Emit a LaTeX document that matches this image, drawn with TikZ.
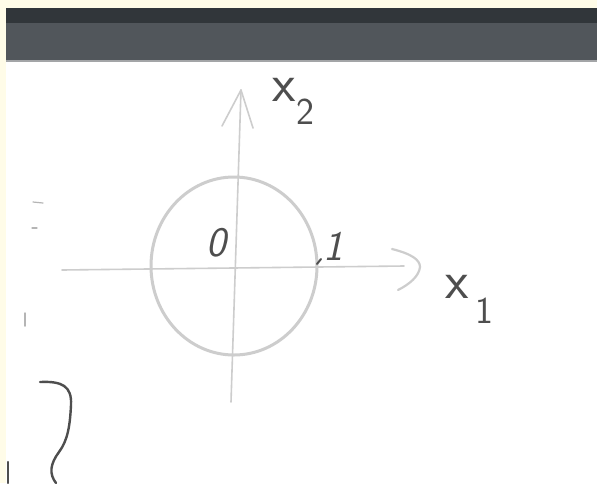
\documentclass[tikz,border=0pt]{standalone}
\usepackage{tikz}
\usepackage{xcolor}
\usetikzlibrary{positioning}
\definecolor{cream}{HTML}{FFFCE8}
\definecolor{barDark}{HTML}{31363A}
\definecolor{barGray}{HTML}{51565B}
\definecolor{barEdge}{HTML}{A3A5A7}
\definecolor{pencil}{HTML}{CDCDCD}
\definecolor{graphite}{HTML}{4E4E4E}
\definecolor{faintmark}{HTML}{B5B5B5}
\tikzset{
  axisline/.style={draw=pencil,line width=1.6pt,line cap=round,line join=round},
  ringline/.style={draw=pencil,line width=3pt},
  penstroke/.style={draw=graphite,line width=2.4pt,line cap=round},
  handlbl/.style={text=graphite,inner sep=0pt,font=\sffamily\fontsize{54}{54}\selectfont},
  handsub/.style={text=graphite,inner sep=0pt,font=\sffamily\fontsize{38}{38}\selectfont},
  handnum/.style={text=graphite,inner sep=0pt,font=\sffamily\itshape\fontsize{42}{42}\selectfont}
}
\begin{document}
\begin{tikzpicture}[x=1pt,y=-1pt]
    \path[use as bounding box,fill=cream] (0,0) rectangle (597,483);
    % screen frame
    \fill[barDark] (6,8) rectangle (597,23);
    \fill[barGray] (6,23) rectangle (597,60);
    \fill[barEdge] (6,60) rectangle (597,62);
    \fill[white] (6,62) rectangle (597,483);
    % axes
    \coordinate (xoneStart) at (62,270);
    \coordinate (xoneEnd) at (404,266);
    \coordinate (xtwoStart) at (231,402);
    \coordinate (xtwoEnd) at (241,90);
    \coordinate (xtwoLeft) at (222,126);
    \coordinate (xtwoRight) at (253,128);
    \draw[axisline] (xoneStart) -- (xoneEnd);
    \draw[axisline] (xtwoStart) -- (xtwoEnd);
    \draw[axisline] (xtwoLeft) -- (xtwoEnd) -- (xtwoRight);
    \draw[axisline,line width=2.2pt] (392,249) .. controls (412,254) and (420,260) .. (420,267)
      .. controls (419,276) and (410,284) .. (398,290);
    % unit circle
    \draw[ringline] (234,266) ellipse [x radius=83pt,y radius=89pt];
    % labels
    \node[handlbl] (xtwo) at (284,90) {x};
    \node[handsub] (xtwoIdx) at (305,112) {2};
    \node[handlbl] (xone) at (457,287) {x};
    \node[handsub] (xoneIdx) at (484,311) {1};
    \node[handnum] (origin) at (216,243) {0};
    \node[handnum] (unit) at (333,246) {1};
    \draw[penstroke,line width=2pt] (321,259) -- (317,264);
    % stray marks
    \draw[faintmark,line width=1.2pt,line cap=round] (33,202) -- (43,203);
    \draw[faintmark,line width=1.2pt,line cap=round] (32,228) -- (37,228);
    \draw[faintmark,line width=1.5pt,line cap=round] (25,313) -- (25,326);
    \draw[penstroke] (40,382) .. controls (62,381) and (72,386) .. (71,405)
      .. controls (70,425) and (68,440) .. (59,452)
      .. controls (50,464) and (49,474) .. (56,483);
    \draw[penstroke] (8,462) -- (8,483);
\end{tikzpicture}
\end{document}
